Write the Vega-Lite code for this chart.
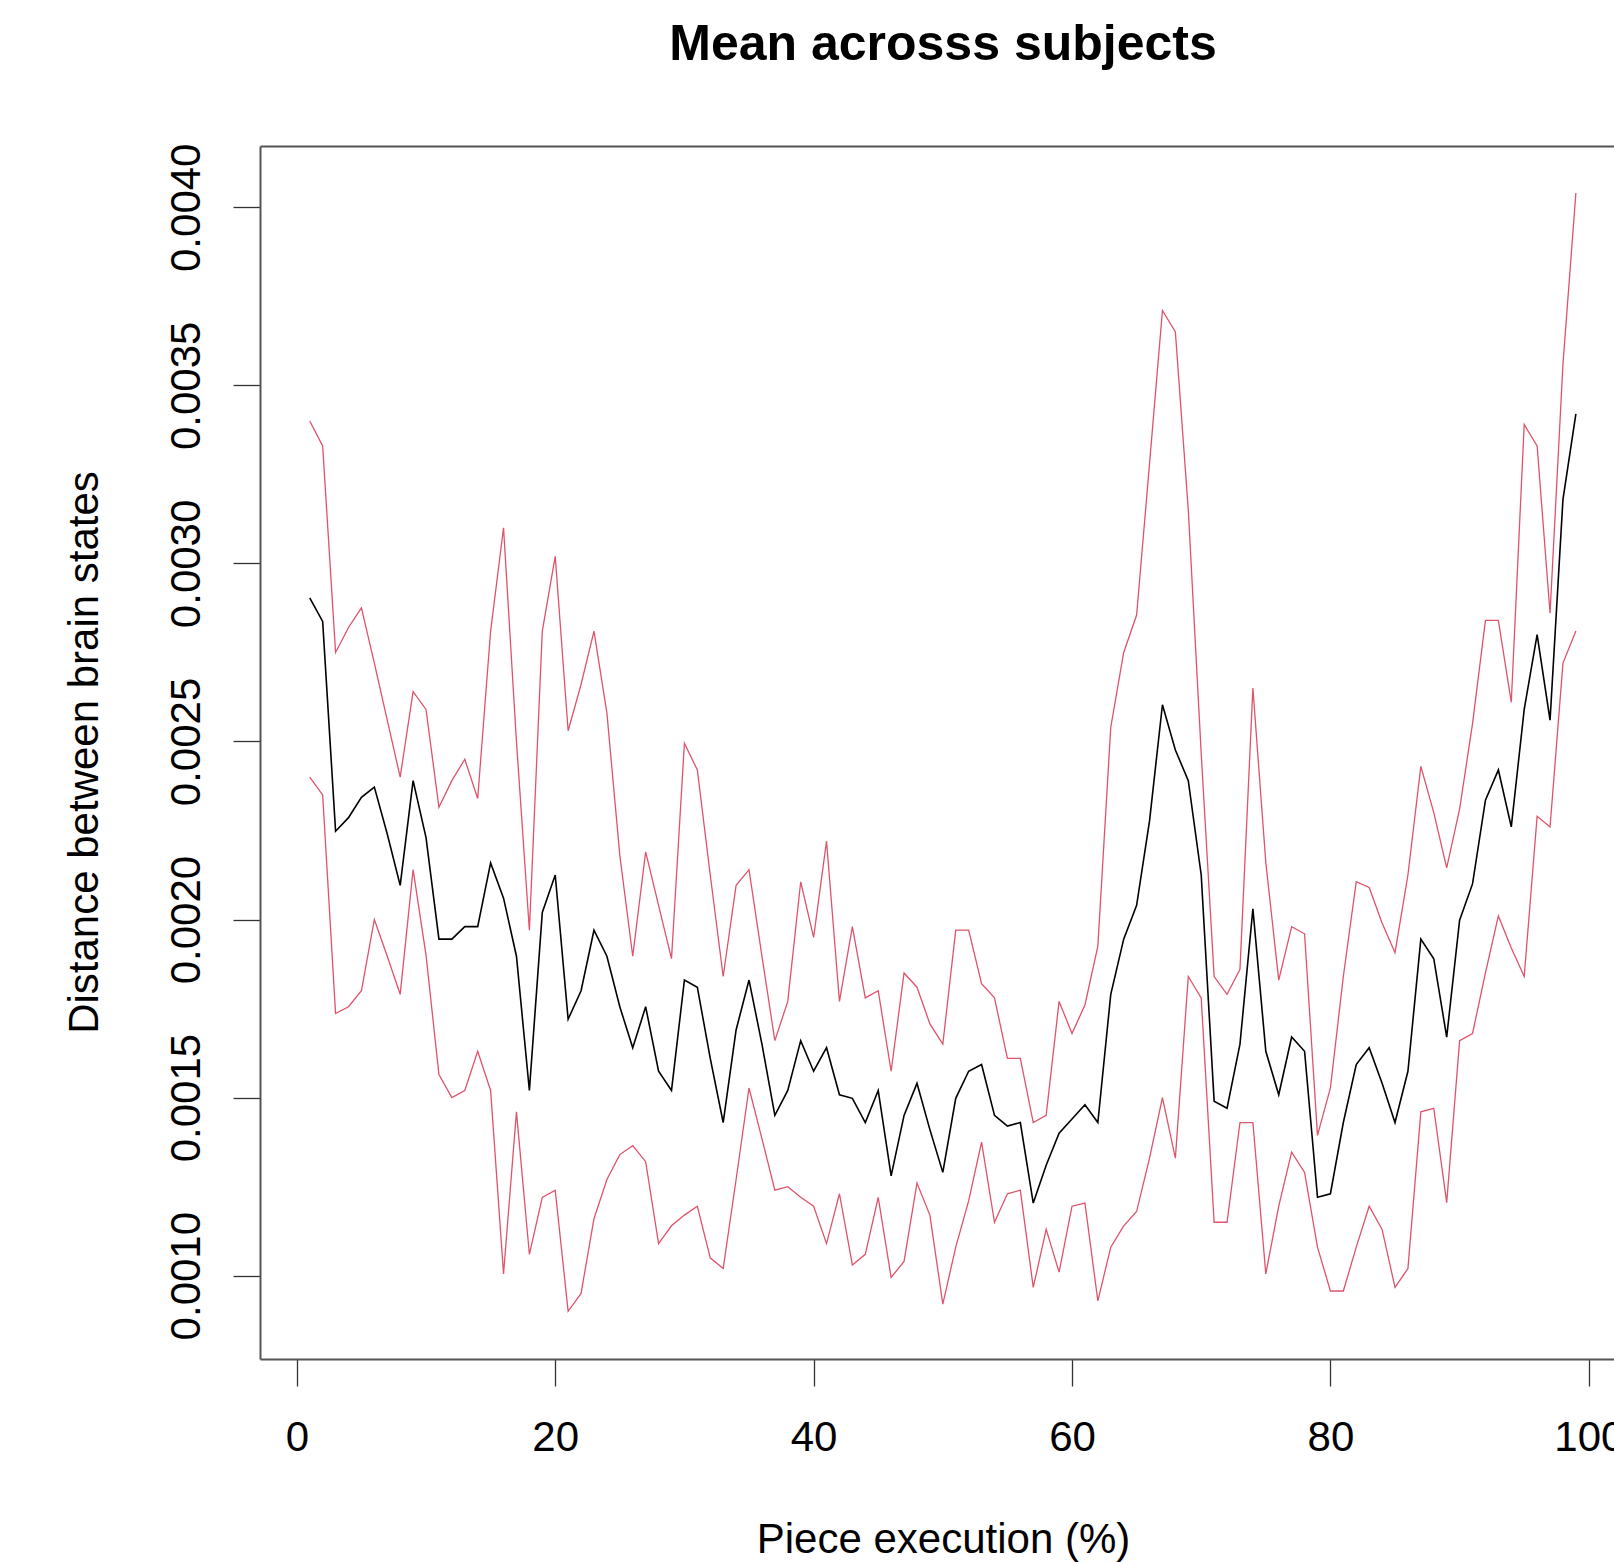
{
  "$schema": "https://vega.github.io/schema/vega-lite/v6.json",
  "width": 1354,
  "height": 1213,
  "autosize": {"type": "none"},
  "padding": {"left": 260, "top": 146, "right": 0, "bottom": 203},
  "background": "white",
  "config": {"view": {"stroke": null}, "font": "Liberation Sans"},
  "title": {"text": "Mean acrosss subjects", "fontSize": 50, "fontWeight": "bold", "font": "Liberation Sans", "color": "#000000", "anchor": "middle", "frame": "group", "dx": 6, "offset": 73},
  "data": {"values": [
    {"pct":1,"mean":0.002903,"upper":0.00340,"lower":0.002400},
    {"pct":2,"mean":0.002837,"upper":0.00333,"lower":0.002350},
    {"pct":3,"mean":0.002248,"upper":0.00275,"lower":0.001736},
    {"pct":4,"mean":0.002286,"upper":0.00282,"lower":0.001755},
    {"pct":5,"mean":0.002343,"upper":0.002875,"lower":0.001800},
    {"pct":6,"mean":0.002372,"upper":0.00272,"lower":0.002000},
    {"pct":7,"mean":0.002240,"upper":0.00256,"lower":0.001897},
    {"pct":8,"mean":0.002096,"upper":0.00240,"lower":0.001790},
    {"pct":9,"mean":0.002390,"upper":0.00264,"lower":0.002140},
    {"pct":10,"mean":0.002230,"upper":0.00259,"lower":0.001900},
    {"pct":11,"mean":0.001945,"upper":0.002315,"lower":0.001565},
    {"pct":12,"mean":0.001945,"upper":0.00239,"lower":0.001500},
    {"pct":13,"mean":0.001980,"upper":0.00245,"lower":0.001520},
    {"pct":14,"mean":0.001980,"upper":0.00234,"lower":0.001630},
    {"pct":15,"mean":0.002159,"upper":0.00281,"lower":0.001520},
    {"pct":16,"mean":0.002060,"upper":0.00310,"lower":0.001005},
    {"pct":17,"mean":0.001897,"upper":0.00250,"lower":0.001460},
    {"pct":18,"mean":0.001520,"upper":0.00197,"lower":0.001060},
    {"pct":19,"mean":0.002020,"upper":0.00281,"lower":0.001220},
    {"pct":20,"mean":0.002125,"upper":0.00302,"lower":0.001240},
    {"pct":21,"mean":0.001720,"upper":0.00253,"lower":0.000900},
    {"pct":22,"mean":0.001800,"upper":0.00266,"lower":0.000950},
    {"pct":23,"mean":0.001970,"upper":0.00281,"lower":0.001160},
    {"pct":24,"mean":0.001897,"upper":0.00258,"lower":0.001270},
    {"pct":25,"mean":0.001755,"upper":0.00218,"lower":0.001340},
    {"pct":26,"mean":0.001640,"upper":0.001897,"lower":0.001365},
    {"pct":27,"mean":0.001755,"upper":0.00219,"lower":0.001320},
    {"pct":28,"mean":0.001574,"upper":0.00204,"lower":0.001090},
    {"pct":29,"mean":0.001520,"upper":0.00189,"lower":0.001140},
    {"pct":30,"mean":0.001830,"upper":0.002495,"lower":0.001170},
    {"pct":31,"mean":0.001810,"upper":0.00242,"lower":0.001195},
    {"pct":32,"mean":0.001610,"upper":0.002125,"lower":0.001050},
    {"pct":33,"mean":0.001430,"upper":0.00184,"lower":0.001020},
    {"pct":34,"mean":0.001690,"upper":0.002096,"lower":0.001270},
    {"pct":35,"mean":0.001830,"upper":0.00214,"lower":0.001527},
    {"pct":36,"mean":0.001650,"upper":0.001897,"lower":0.001385},
    {"pct":37,"mean":0.001450,"upper":0.00166,"lower":0.001240},
    {"pct":38,"mean":0.001520,"upper":0.00177,"lower":0.001250},
    {"pct":39,"mean":0.001660,"upper":0.002106,"lower":0.001220},
    {"pct":40,"mean":0.001574,"upper":0.00195,"lower":0.001195},
    {"pct":41,"mean":0.001640,"upper":0.00222,"lower":0.001090},
    {"pct":42,"mean":0.001508,"upper":0.00177,"lower":0.001230},
    {"pct":43,"mean":0.001498,"upper":0.00198,"lower":0.001030},
    {"pct":44,"mean":0.001430,"upper":0.00178,"lower":0.001060},
    {"pct":45,"mean":0.001520,"upper":0.00180,"lower":0.001220},
    {"pct":46,"mean":0.001280,"upper":0.001574,"lower":0.000995},
    {"pct":47,"mean":0.001450,"upper":0.00185,"lower":0.001040},
    {"pct":48,"mean":0.001540,"upper":0.00181,"lower":0.001260},
    {"pct":49,"mean":0.001410,"upper":0.001707,"lower":0.001170},
    {"pct":50,"mean":0.001290,"upper":0.00165,"lower":0.000920},
    {"pct":51,"mean":0.001498,"upper":0.00197,"lower":0.001080},
    {"pct":52,"mean":0.001574,"upper":0.00197,"lower":0.001210},
    {"pct":53,"mean":0.001593,"upper":0.00182,"lower":0.001375},
    {"pct":54,"mean":0.001450,"upper":0.00178,"lower":0.001150},
    {"pct":55,"mean":0.001420,"upper":0.00161,"lower":0.001230},
    {"pct":56,"mean":0.001430,"upper":0.00161,"lower":0.001240},
    {"pct":57,"mean":0.001204,"upper":0.00143,"lower":0.000967},
    {"pct":58,"mean":0.001310,"upper":0.00145,"lower":0.001130},
    {"pct":59,"mean":0.001400,"upper":0.00177,"lower":0.001010},
    {"pct":60,"mean":0.001440,"upper":0.00168,"lower":0.001195},
    {"pct":61,"mean":0.001480,"upper":0.00176,"lower":0.001204},
    {"pct":62,"mean":0.001430,"upper":0.001925,"lower":0.000929},
    {"pct":63,"mean":0.001790,"upper":0.00254,"lower":0.001080},
    {"pct":64,"mean":0.001945,"upper":0.00275,"lower":0.001140},
    {"pct":65,"mean":0.002040,"upper":0.002855,"lower":0.001180},
    {"pct":66,"mean":0.002277,"upper":0.00328,"lower":0.001330},
    {"pct":67,"mean":0.002603,"upper":0.00371,"lower":0.001500},
    {"pct":68,"mean":0.002476,"upper":0.00365,"lower":0.001330},
    {"pct":69,"mean":0.002390,"upper":0.00315,"lower":0.001840},
    {"pct":70,"mean":0.002125,"upper":0.002466,"lower":0.001780},
    {"pct":71,"mean":0.001490,"upper":0.00184,"lower":0.001150},
    {"pct":72,"mean":0.001470,"upper":0.00179,"lower":0.001150},
    {"pct":73,"mean":0.001650,"upper":0.00186,"lower":0.001430},
    {"pct":74,"mean":0.002030,"upper":0.00265,"lower":0.001430},
    {"pct":75,"mean":0.001630,"upper":0.00216,"lower":0.001005},
    {"pct":76,"mean":0.001508,"upper":0.00183,"lower":0.001195},
    {"pct":77,"mean":0.001670,"upper":0.00198,"lower":0.001347},
    {"pct":78,"mean":0.001630,"upper":0.00196,"lower":0.001290},
    {"pct":79,"mean":0.001220,"upper":0.001394,"lower":0.001080},
    {"pct":80,"mean":0.001230,"upper":0.001527,"lower":0.000957},
    {"pct":81,"mean":0.001430,"upper":0.00184,"lower":0.000957},
    {"pct":82,"mean":0.001593,"upper":0.002106,"lower":0.001080},
    {"pct":83,"mean":0.001640,"upper":0.00209,"lower":0.001195},
    {"pct":84,"mean":0.001540,"upper":0.00199,"lower":0.001130},
    {"pct":85,"mean":0.001430,"upper":0.001907,"lower":0.000967},
    {"pct":86,"mean":0.001574,"upper":0.002125,"lower":0.001020},
    {"pct":87,"mean":0.001945,"upper":0.00243,"lower":0.001460},
    {"pct":88,"mean":0.001890,"upper":0.00230,"lower":0.001470},
    {"pct":89,"mean":0.001670,"upper":0.002145,"lower":0.001205},
    {"pct":90,"mean":0.001998,"upper":0.00231,"lower":0.001660},
    {"pct":91,"mean":0.002100,"upper":0.00255,"lower":0.001680},
    {"pct":92,"mean":0.002335,"upper":0.00284,"lower":0.001850},
    {"pct":93,"mean":0.002420,"upper":0.00284,"lower":0.002010},
    {"pct":94,"mean":0.002260,"upper":0.00261,"lower":0.001920},
    {"pct":95,"mean":0.002590,"upper":0.00339,"lower":0.001840},
    {"pct":96,"mean":0.002800,"upper":0.00333,"lower":0.002290},
    {"pct":97,"mean":0.002560,"upper":0.00286,"lower":0.002260},
    {"pct":98,"mean":0.003180,"upper":0.00356,"lower":0.002720},
    {"pct":99,"mean":0.003420,"upper":0.00404,"lower":0.002810}
  ]},
  "resolve": {"axis": {"x": "independent"}},
  "layer": [
    {
      "mark": {"type": "line", "color": "#000000", "strokeWidth": 1.6},
      "encoding": {
        "x": {"field": "pct", "type": "quantitative",
          "scale": {"domain": [-2.85, 101.95], "nice": false, "zero": false},
          "axis": {"orient": "bottom", "values": [0, 20, 40, 60, 80, 100], "grid": false,
            "domainColor": "#555555", "domainWidth": 2, "tickColor": "#333333", "tickWidth": 1.3, "tickSize": 27,
            "labelFontSize": 42, "labelFont": "Liberation Sans", "labelColor": "#000000", "labelPadding": 31,
            "labelBaseline": "top", "labelFlush": false, "labelOverlap": false,
            "title": "Piece execution (%)", "titleFontSize": 42, "titleFontWeight": "normal", "titleFont": "Liberation Sans",
            "titleColor": "#000000", "titleX": 683, "titleY": 193, "titleAlign": "center", "titleBaseline": "alphabetic"}},
        "y": {"field": "mean", "type": "quantitative",
          "scale": {"domain": [0.000766, 0.004172], "nice": false, "zero": false},
          "axis": {"values": [0.001, 0.0015, 0.002, 0.0025, 0.003, 0.0035, 0.004], "format": ".4f", "grid": false,
            "domainColor": "#555555", "domainWidth": 2, "tickColor": "#333333", "tickWidth": 1.3, "tickSize": 27,
            "labelFontSize": 42, "labelFont": "Liberation Sans", "labelColor": "#000000", "labelAngle": -90,
            "labelAlign": "center", "labelBaseline": "middle", "labelPadding": 47, "labelFlush": false, "labelOverlap": false,
            "title": "Distance between brain states", "titleFontSize": 42, "titleFontWeight": "normal", "titleFont": "Liberation Sans",
            "titleColor": "#000000", "titleX": -176, "titleY": 606, "titleAngle": -90, "titleAlign": "center", "titleBaseline": "middle"}}
      }
    },
    {
      "mark": {"type": "line", "color": "#DF536B", "strokeWidth": 1.3},
      "encoding": {
        "x": {"field": "pct", "type": "quantitative",
          "axis": {"orient": "top", "ticks": false, "labels": false, "title": null, "grid": false, "domainColor": "#555555", "domainWidth": 2}},
        "y": {"field": "upper", "type": "quantitative"}
      }
    },
    {
      "mark": {"type": "line", "color": "#DF536B", "strokeWidth": 1.3},
      "encoding": {
        "x": {"field": "pct", "type": "quantitative", "axis": null},
        "y": {"field": "lower", "type": "quantitative"}
      }
    }
  ]
}
